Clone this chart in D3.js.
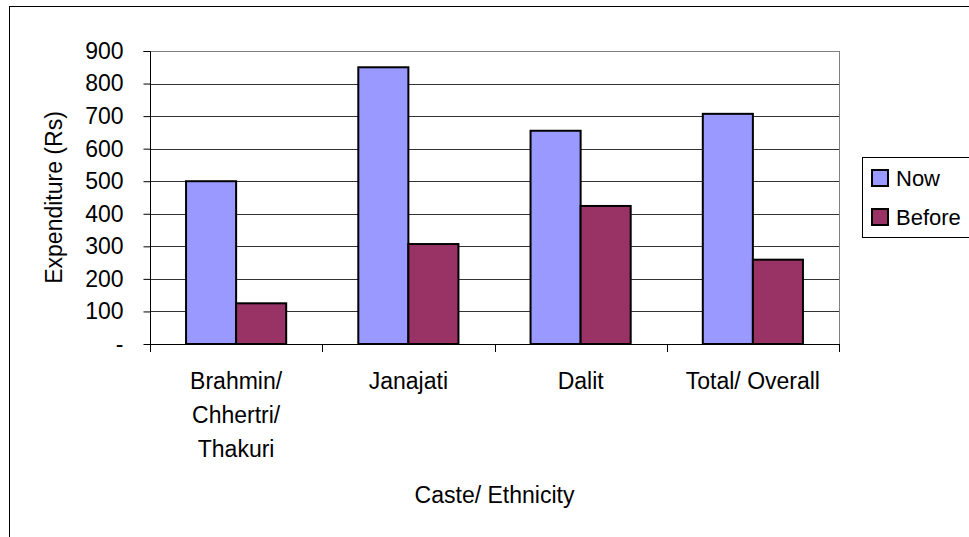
<!DOCTYPE html>
<html lang="en">
<head>
<meta charset="UTF-8" />
<title>Expenditure by caste/ethnicity</title>
<script src="https://d3js.org/d3.v7.min.js"></script>
<style>
  body { margin: 0; background: #fff; }
  text { font-family: "Liberation Sans", Arial, sans-serif; fill: #000; }
</style>
</head>
<body>
<script>

var categories = [["Brahmin/", "Chhertri/", "Thakuri"], ["Janajati"], ["Dalit"], ["Total/ Overall"]];
var seriesNames = ["Now", "Before"];
var nowValues = [500, 850, 655, 707];
var beforeValues = [125, 307, 424, 259];
var yTicks = [0, 100, 200, 300, 400, 500, 600, 700, 800, 900];
var colors = ["#9999ff", "#993366"];

var W = 969, H = 537;
var margin = {top: 51, right: 130, bottom: 193, left: 150};
var plotW = 839 - margin.left,
    plotH = 344 - margin.top;

var svg = d3.select("body").append("svg")
  .attr("width", W)
  .attr("height", H);

// outer chart frame (runs off the right and bottom edges)
svg.append("rect")
  .attr("x", 9.5).attr("y", 6.5)
  .attr("width", 1000).attr("height", 600)
  .attr("fill", "none").attr("stroke", "#000").attr("stroke-width", 1);

var g = svg.append("g")
  .attr("transform", "translate(" + margin.left + "," + margin.top + ")");

var catIdx = categories.map(function(d, i) { return i; });

var x0 = d3.scaleBand()
  .domain(catIdx)
  .range([0, plotW])
  .padding(0);

var x1 = d3.scaleBand()
  .domain(seriesNames)
  .range([0, x0.bandwidth()])
  .paddingInner(0)
  .paddingOuter(0.72);

var y = d3.scaleLinear()
  .domain([0, 900])
  .range([plotH, 0]);

// gridlines
g.append("g")
  .selectAll("line")
  .data(yTicks.slice(1))
  .enter().append("line")
  .attr("x1", 0).attr("x2", plotW)
  .attr("y1", function(d) { return Math.round(y(d)) + 0.5; })
  .attr("y2", function(d) { return Math.round(y(d)) + 0.5; })
  .attr("stroke", function(d) { return d === 900 ? "#808080" : "#333"; })
  .attr("stroke-width", 1);

// right border of plot area
g.append("line")
  .attr("x1", plotW + 0.5).attr("x2", plotW + 0.5)
  .attr("y1", y(900)).attr("y2", plotH)
  .attr("stroke", "#808080");

// bars
var rows = catIdx.map(function(i) {
  return [{key: "Now", value: nowValues[i]}, {key: "Before", value: beforeValues[i]}];
});

g.append("g")
  .selectAll("g")
  .data(rows)
  .enter().append("g")
  .attr("transform", function(d, i) { return "translate(" + x0(i) + ",0)"; })
  .selectAll("rect")
  .data(function(d) { return d; })
  .enter().append("rect")
  .attr("x", function(d) { return x1(d.key); })
  .attr("y", function(d) { return y(d.value); })
  .attr("width", x1.bandwidth())
  .attr("height", function(d) { return plotH - y(d.value); })
  .attr("fill", function(d, i) { return colors[i]; })
  .attr("stroke", "#000")
  .attr("stroke-width", 2);

// y axis
var yAxis = d3.axisLeft(y)
  .tickValues(yTicks)
  .tickSize(7)
  .tickPadding(20)
  .tickFormat(function(d) { return d === 0 ? "-" : d; });

var ya = g.append("g").attr("transform", "translate(0.5,0)").call(yAxis);
ya.select(".domain").attr("stroke", "#000").attr("d", "M-7," + (y(900)+0.5) + "H0V" + (plotH + 0.5));
ya.selectAll(".tick line").attr("stroke", "#000");
ya.selectAll("text").attr("font-size", 23).attr("font-family", null);

// x axis line and category ticks
g.append("line")
  .attr("x1", 0).attr("x2", plotW)
  .attr("y1", plotH + 0.5).attr("y2", plotH + 0.5)
  .attr("stroke", "#000");

g.append("g")
  .selectAll("line")
  .data(catIdx.concat([categories.length]))
  .enter().append("line")
  .attr("x1", function(d) { return Math.round(d * x0.step()) + 0.5; })
  .attr("x2", function(d) { return Math.round(d * x0.step()) + 0.5; })
  .attr("y1", plotH).attr("y2", plotH + 8)
  .attr("stroke", "#000");

// category labels
var labels = g.append("g")
  .selectAll("text")
  .data(categories)
  .enter().append("text")
  .attr("text-anchor", "middle")
  .attr("font-size", 23)
  .attr("transform", function(d, i) { return "translate(" + (x0(i) + x0.bandwidth() / 2) + "," + (plotH + 45) + ")"; });

labels.selectAll("tspan")
  .data(function(d) { return d; })
  .enter().append("tspan")
  .attr("x", 0)
  .attr("y", function(d, i) { return i * 34; })
  .text(function(d) { return d; });

// axis titles
g.append("text")
  .attr("text-anchor", "middle")
  .attr("font-size", 23)
  .attr("x", plotW / 2)
  .attr("y", plotH + 159)
  .text("Caste/ Ethnicity");

g.append("text")
  .attr("text-anchor", "middle")
  .attr("font-size", 23)
  .attr("transform", "translate(" + (-88) + "," + (plotH / 2) + ") rotate(-90)")
  .text("Expenditure (Rs)");

// legend
var legend = svg.append("g").attr("transform", "translate(862,157)");
legend.append("rect")
  .attr("x", 0.5).attr("y", 0.5)
  .attr("width", 130).attr("height", 80)
  .attr("fill", "#fff").attr("stroke", "#000");

var items = legend.selectAll("g.item")
  .data(seriesNames)
  .enter().append("g")
  .attr("class", "item")
  .attr("transform", function(d, i) { return "translate(10," + (13 + i * 39) + ")"; });

items.append("rect")
  .attr("width", 16).attr("height", 16)
  .attr("fill", function(d, i) { return colors[i]; })
  .attr("stroke", "#000").attr("stroke-width", 2);

items.append("text")
  .attr("x", 24).attr("y", 16)
  .attr("font-size", 22)
  .text(function(d) { return d; });

</script>
</body>
</html>
